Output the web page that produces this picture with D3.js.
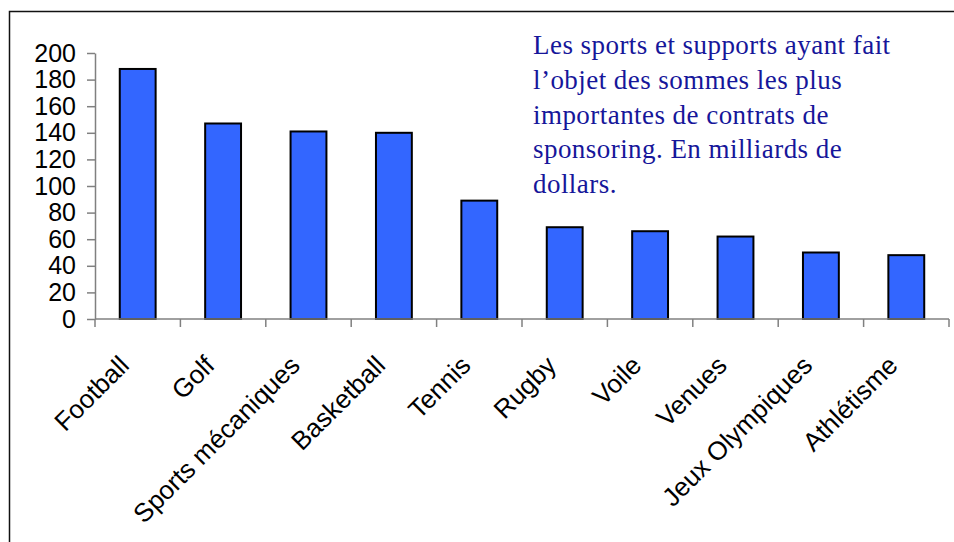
<!DOCTYPE html>
<html>
<head>
<meta charset="utf-8">
<script src="https://cdn.jsdelivr.net/npm/d3@7"></script>
<style>
  html, body { margin: 0; padding: 0; background: #fff; }
  svg { display: block; }
</style>
</head>
<body>
<svg class="chart"></svg>
<script>
// data (milliards de dollars)
const sports = ['Football', 'Golf', 'Sports mécaniques', 'Basketball', 'Tennis',
                'Rugby', 'Voile', 'Venues', 'Jeux Olympiques', 'Athlétisme'];
const amounts = [188, 147, 141, 140, 89, 69, 66, 62, 50, 48];
const yTicks = [0, 20, 40, 60, 80, 100, 120, 140, 160, 180, 200];
const titleLines = [
  'Les sports et supports ayant fait',
  'l\u2019objet des sommes les plus',
  'importantes de contrats de',
  'sponsoring. En milliards de',
  'dollars.'
];

const width = 954;
const height = 542;
const axisColor = '#808080';

const svg = d3.select('.chart')
  .attr('width', width)
  .attr('height', height);

// frame (cut off at the right and bottom)
svg.append('rect')
  .attr('x', 9.5).attr('y', 11.5)
  .attr('width', 1000).attr('height', 600)
  .attr('fill', 'none')
  .attr('stroke', '#111')
  .attr('stroke-width', 1.5);

const x = d3.scaleBand().domain(sports).range([95, 949]).padding(0);
const y = d3.scaleLinear().domain([0, 200]).range([319, 53]);
const barWidth = x.bandwidth() * 0.42;

// bars
svg.append('g')
  .selectAll('rect')
  .data(sports)
  .join('rect')
  .attr('x', d => x(d) + (x.bandwidth() - barWidth) / 2)
  .attr('y', (d, i) => y(amounts[i]))
  .attr('width', barWidth)
  .attr('height', (d, i) => y(0) - y(amounts[i]))
  .attr('fill', '#3366ff')
  .attr('stroke', '#000')
  .attr('stroke-width', 2);

// y axis
const yAxis = svg.append('g')
  .attr('transform', `translate(${x.range()[0]},0)`)
  .call(d3.axisLeft(y).tickValues(yTicks).tickSize(8).tickSizeOuter(0).tickPadding(11));
yAxis.select('.domain').attr('stroke', axisColor).attr('stroke-width', 1.5);
yAxis.selectAll('.tick line').attr('stroke', axisColor).attr('stroke-width', 1.5);
yAxis.selectAll('.tick text')
  .attr('fill', '#000')
  .style('font-family', '"Liberation Sans", Arial, sans-serif')
  .style('font-size', '25px');

// x axis line
svg.append('line')
  .attr('x1', x.range()[0]).attr('x2', x.range()[1])
  .attr('y1', y(0)).attr('y2', y(0))
  .attr('stroke', axisColor).attr('stroke-width', 1.5);

// tick marks between categories
const boundaries = sports.map(d => x(d)).concat([x.range()[1]]);
svg.append('g')
  .selectAll('line')
  .data(boundaries)
  .join('line')
  .attr('x1', d => d).attr('x2', d => d)
  .attr('y1', y(0)).attr('y2', y(0) + 8)
  .attr('stroke', axisColor).attr('stroke-width', 1.5);

// category labels, rotated
svg.append('g')
  .selectAll('text')
  .data(sports)
  .join('text')
  .attr('transform', d => `translate(${x(d) + x.bandwidth() / 2 - 7},${y(0) + 48}) rotate(-45)`)
  .attr('text-anchor', 'end')
  .style('font-family', '"Liberation Sans", Arial, sans-serif')
  .style('font-size', '26px')
  .attr('fill', '#000')
  .text(d => d);

// title block
svg.append('g')
  .selectAll('text')
  .data(titleLines)
  .join('text')
  .attr('x', 533)
  .attr('y', (d, i) => 54 + i * 34.8)
  .style('font-family', '"Liberation Serif", "Times New Roman", serif')
  .style('font-size', '27px')
  .style('letter-spacing', '0.45px')
  .attr('fill', '#16169a')
  .text(d => d);
</script>
</body>
</html>
